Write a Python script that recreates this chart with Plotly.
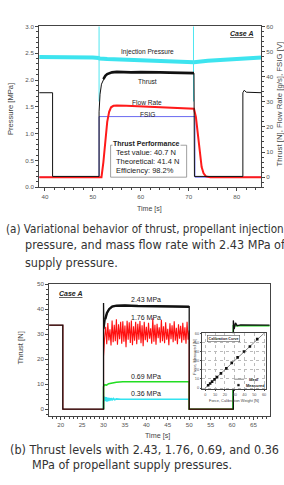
import plotly.graph_objects as go

# ---------------- data: (a) top chart ----------------
inj_t = [38.8, 41.0, 44.0, 47.0, 50.0, 51.2, 51.4, 53.0, 56.0, 60.0, 64.0, 68.0, 70.9, 71.1, 74.0, 77.0, 80.0, 83.0, 85.2]
inj_p = [2.43, 2.43, 2.43, 2.42, 2.42, 2.41, 2.40, 2.39, 2.38, 2.36, 2.35, 2.34, 2.33, 2.33, 2.36, 2.38, 2.40, 2.42, 2.42]
inj_spike_t = [51.3, 71.0]
inj_spike_lo = [1.6, 1.6]
inj_spike_hi = [3.0, 3.0]

thrust_t = [38.8, 41.6, 41.6, 51.3, 51.3, 51.5, 51.8, 52.2, 52.6, 53.0, 53.5, 54.0, 55.0, 56.0, 58.0, 60.0, 62.0, 64.0, 66.0, 68.0, 70.0, 71.1, 71.2, 81.3, 81.3, 81.6, 82.0, 85.2]
thrust_v = [33.6, 33.6, 0.3, 0.3, 26.0, 33.0, 37.0, 39.0, 40.3, 41.0, 41.4, 41.7, 41.9, 41.8, 41.7, 41.8, 41.6, 41.7, 41.6, 41.5, 41.4, 41.4, 0.3, 0.3, 33.6, 34.6, 33.8, 33.6]

flow_t = [38.8, 51.8, 52.2, 52.6, 53.0, 53.4, 53.8, 54.3, 55.0, 57.0, 60.0, 65.0, 70.0, 71.1, 71.5, 71.9, 72.3, 72.7, 73.1, 73.6, 74.5, 85.2]
flow_v = [0.0, 0.0, 6.0, 15.0, 22.0, 26.0, 27.8, 28.4, 28.5, 28.4, 28.1, 27.8, 27.4, 27.2, 24.0, 17.0, 9.0, 4.0, 1.5, 0.3, 0.0, 0.0]

fsig_t = [38.8, 51.3, 51.3, 71.3, 71.3, 85.2]
fsig_v = [0.0, 0.0, 24.1, 24.1, 0.0, 0.0]

perf_lines = ["Test value: 40.7 N", "Theoretical: 41.4 N", "Efficiency: 98.2%"]

# ---------------- data: (b) bottom chart ----------------
b243_t = [17.3, 20.5, 20.5, 30.0, 30.0, 30.1, 30.4, 30.8, 31.3, 32.0, 33.0, 35.0, 38.0, 42.0, 46.0, 50.0, 50.0, 60.3, 60.3, 60.5, 60.8, 61.2, 62.0, 68.8]
b243_v = [33.6, 33.6, 0.0, 0.0, 42.5, 32.0, 36.0, 38.5, 40.0, 41.0, 41.4, 41.5, 41.3, 41.2, 41.1, 41.0, 0.0, 0.0, 35.5, 32.0, 34.5, 33.4, 33.7, 33.6]

b176_pre_t = [17.3, 20.5, 20.5, 30.0, 30.0, 30.1]
b176_pre_v = [33.6, 33.6, 0.0, 0.0, 21.0, 27.0]
b176_noise_t = [30.25, 30.5, 30.75, 31.0, 31.25, 31.5, 31.75, 32.0,
                32.25, 32.5, 32.75, 33.0, 33.25, 33.5, 33.75, 34.0,
                34.25, 34.5, 34.75, 35.0, 35.25, 35.5, 35.75, 36.0,
                36.25, 36.5, 36.75, 37.0, 37.25, 37.5, 37.75, 38.0,
                38.25, 38.5, 38.75, 39.0, 39.25, 39.5, 39.75, 40.0,
                40.25, 40.5, 40.75, 41.0, 41.25, 41.5, 41.75, 42.0,
                42.25, 42.5, 42.75, 43.0, 43.25, 43.5, 43.75, 44.0,
                44.25, 44.5, 44.75, 45.0, 45.25, 45.5, 45.75, 46.0,
                46.25, 46.5, 46.75, 47.0, 47.25, 47.5, 47.75, 48.0,
                48.25, 48.5, 48.75, 49.0, 49.25, 49.5, 49.75, 50.0]
b176_noise_v = [28.5, 33.0, 26.0, 34.5, 27.5, 32.0, 25.5, 35.5,
                26.8, 33.8, 27.2, 36.0, 25.8, 34.0, 28.0, 35.0,
                26.2, 35.2, 27.0, 33.5, 24.8, 35.4, 27.8, 34.8,
                26.5, 35.5, 25.6, 33.2, 27.4, 35.0, 26.0, 34.2,
                27.8, 35.3, 26.4, 33.6, 25.2, 35.0, 27.6, 33.0,
                26.8, 34.6, 28.2, 32.4, 26.2, 36.4, 27.0, 33.8,
                25.8, 34.2, 28.4, 32.8, 26.6, 35.8, 27.2, 33.2,
                26.4, 34.8, 27.8, 32.2, 25.6, 34.4, 28.0, 33.6,
                26.8, 35.2, 27.4, 32.6, 26.0, 34.0, 28.2, 33.4,
                26.6, 34.6, 27.6, 32.8, 26.2, 35.0, 27.8, 31.5]
b176_post_t = [50.0, 60.2]
b176_post_v = [0.0, 0.0]

b069_t = [30.0, 30.0, 30.3, 30.7, 31.2, 32.0, 33.0, 34.5, 36.0, 40.0, 45.0, 50.0, 50.0, 60.2, 60.3, 68.8]
b069_v = [0.0, 9.0, 9.8, 9.6, 10.2, 10.5, 10.8, 11.0, 11.0, 11.0, 11.0, 11.0, 0.0, 0.0, 33.4, 33.4]

b036_t = [30.0, 30.0, 30.2, 30.4, 30.6, 30.8, 31.0, 31.2, 31.4, 31.6, 31.8, 32.0, 32.3, 32.6, 33.0, 34.0, 40.0, 45.0, 50.0, 50.0]
b036_v = [0.0, 3.0, 5.0, 3.2, 4.8, 3.0, 4.6, 3.3, 4.5, 3.5, 4.4, 3.6, 4.3, 3.8, 4.1, 4.0, 4.0, 4.0, 4.0, 0.0]

level_labels = ["2.43 MPa", "1.76 MPa", "0.69 MPa", "0.36 MPa"]

cal_weight = [3.0, 5.0, 7.0, 9.5, 12.0, 16.0, 21.5, 27.0, 33.0, 39.5, 45.5, 53.0]
cal_measured = [3.0, 5.0, 7.0, 9.5, 12.0, 16.0, 21.5, 27.5, 33.5, 40.0, 45.5, 53.5]
ideal_x = [0, 60]
ideal_y = [0, 60]

caption_a = ["(a) Variational behavior of thrust, propellant injection",
             "pressure, and mass flow rate with 2.43 MPa of",
             "supply pressure."]
caption_b = ["(b) Thrust levels with 2.43, 1.76, 0.69, and 0.36",
             "MPa of propellant supply pressures."]

# ---------------- layout helpers ----------------
W, H = 284, 485
def fx(p):
    return p / W
def fy(p):
    return 1 - p / H

FONT = "Liberation Sans, Arial, sans-serif"
CAPFONT = "DejaVu Sans Condensed, Liberation Sans, sans-serif"
TICK = dict(family=FONT, size=6.2, color="#555")
AX = "#444"

fig = go.Figure()

# ---- top chart traces ----
fig.add_trace(go.Scatter(x=inj_t, y=inj_p, mode="lines", line=dict(color="#3de4ef", width=4),
                         xaxis="x", yaxis="y", hoverinfo="skip"))
sx, sy = [], []
for t, lo, hi in zip(inj_spike_t, inj_spike_lo, inj_spike_hi):
    sx += [t, t, None]
    sy += [lo, hi, None]
fig.add_trace(go.Scatter(x=sx, y=sy, mode="lines", line=dict(color="#4ee6f0", width=1),
                         xaxis="x", yaxis="y", hoverinfo="skip"))
fig.add_trace(go.Scatter(x=fsig_t, y=fsig_v, mode="lines", line=dict(color="#6b6bf0", width=1),
                         xaxis="x", yaxis="y2", hoverinfo="skip"))
fig.add_trace(go.Scatter(x=flow_t, y=flow_v, mode="lines", line=dict(color="#ff1a1a", width=2),
                         xaxis="x", yaxis="y2", hoverinfo="skip"))
fig.add_trace(go.Scatter(x=thrust_t, y=thrust_v, mode="lines", line=dict(color="#111", width=1),
                         xaxis="x", yaxis="y2", hoverinfo="skip"))
pt = [t for t, v in zip(thrust_t, thrust_v) if 52.0 <= t <= 71.15]
pv = [v for t, v in zip(thrust_t, thrust_v) if 52.0 <= t <= 71.15]
fig.add_trace(go.Scatter(x=pt, y=pv, mode="lines", line=dict(color="#111", width=2.6),
                         xaxis="x", yaxis="y2", hoverinfo="skip"))

# ---- bottom chart traces ----
fig.add_trace(go.Scatter(x=b036_t, y=b036_v, mode="lines", line=dict(color="#33e3f0", width=1.6),
                         xaxis="x2", yaxis="y3", hoverinfo="skip"))
fig.add_trace(go.Scatter(x=b069_t, y=b069_v, mode="lines", line=dict(color="#22dd22", width=1.6),
                         xaxis="x2", yaxis="y3", hoverinfo="skip"))
fig.add_trace(go.Scatter(x=b176_pre_t + b176_noise_t + b176_post_t,
                         y=b176_pre_v + b176_noise_v + b176_post_v, mode="lines",
                         line=dict(color="#ff1010", width=1.1),
                         xaxis="x2", yaxis="y3", hoverinfo="skip"))
fig.add_trace(go.Scatter(x=b243_t, y=b243_v, mode="lines", line=dict(color="#111", width=1.3),
                         xaxis="x2", yaxis="y3", hoverinfo="skip"))
qt = [t for t, v in zip(b243_t, b243_v) if 30.3 <= t <= 50.0 and v > 1]
qv = [v for t, v in zip(b243_t, b243_v) if 30.3 <= t <= 50.0 and v > 1]
fig.add_trace(go.Scatter(x=qt, y=qv, mode="lines", line=dict(color="#111", width=2.4),
                         xaxis="x2", yaxis="y3", hoverinfo="skip"))

# ---- inset ----
fig.add_trace(go.Scatter(x=ideal_x, y=ideal_y, mode="lines", line=dict(color="#666", width=0.8),
                         xaxis="x3", yaxis="y4", hoverinfo="skip"))
fig.add_trace(go.Scatter(x=cal_weight, y=cal_measured, mode="markers",
                         marker=dict(color="#111", size=2.6, symbol="square"),
                         xaxis="x3", yaxis="y4", hoverinfo="skip"))

def axis(**kw):
    d = dict(showline=True, linecolor=AX, linewidth=1, mirror=True, ticks="outside",
             ticklen=3, tickcolor=AX, tickwidth=0.8, showgrid=False, zeroline=False,
             tickfont=TICK, fixedrange=True)
    d.update(kw)
    return d

INSET_TICK = dict(family=FONT, size=3.9, color="#555")
layout = dict(
    width=W, height=H, margin=dict(l=0, r=0, t=0, b=0),
    paper_bgcolor="white", plot_bgcolor="white", showlegend=False,
    font=dict(family=FONT, color="#222"),
    xaxis=axis(domain=[fx(39.3), fx(262)], range=[38.8, 85.1], tick0=0, dtick=10, anchor="y",
               minor=dict(ticks="outside", ticklen=2, dtick=2, tickcolor=AX)),
    yaxis=axis(domain=[fy(186), fy(22.7)], range=[0, 3], dtick=0.5, tickformat=".1f", anchor="x",
               mirror=False, minor=dict(ticks="outside", ticklen=2, dtick=0.1, tickcolor=AX)),
    yaxis2=axis(overlaying="y", side="right", range=[-4.04, 60], dtick=10, anchor="x",
                mirror=False, minor=dict(ticks="outside", ticklen=2, dtick=2, tickcolor=AX)),
    xaxis2=axis(domain=[fx(49.3), fx(270.7)], range=[17.3, 68.8], tick0=0, dtick=5, anchor="y3",
                minor=dict(ticks="outside", ticklen=2, dtick=1, tickcolor=AX)),
    yaxis3=axis(domain=[fy(417.7), fy(284.3)], range=[-2.6, 50], dtick=10, anchor="x2",
                minor=dict(ticks="outside", ticklen=2, dtick=2, tickcolor=AX)),
    xaxis3=axis(domain=[fx(203), fx(267)], range=[-3, 62], dtick=10, anchor="y4", ticklen=1.5,
                tickfont=INSET_TICK, showgrid=True,
                gridcolor="#bbb", gridwidth=0.5, griddash="dot", linewidth=0.8),
    yaxis4=axis(domain=[fy(390.7), fy(334)], range=[-1.1, 60], dtick=10, anchor="x3", ticklen=1.5,
                tickfont=INSET_TICK, showgrid=True,
                gridcolor="#bbb", gridwidth=0.5, griddash="dot", linewidth=0.8),
)

ann = []
def txt(x, y, s, size, color="#222", xanchor="center", angle=0, family=FONT, **kw):
    ann.append(dict(x=fx(x), y=fy(y), xref="paper", yref="paper", text=s, showarrow=False,
                    xanchor=xanchor, yanchor="middle", textangle=angle,
                    font=dict(family=family, size=size, color=color), **kw))

# top chart texts
txt(242, 30, "<b><i><u>Case A</u></i></b>", 7)
txt(148, 48.7, "Injection Pressure", 6.6)
txt(148, 78.7, "Thrust", 6.6)
txt(148, 99.7, "Flow Rate", 6.6)
txt(148, 111.7, "FSIG", 6.6)
txt(10, 106.7, "Pressure [MPa]", 7.6, color="#444", angle=-90)
txt(281, 102, "Thrust [N], Flow Rate [g/s], FSIG [V]", 7.8, color="#444", angle=-90)
txt(150, 208.3, "Time [s]", 7, color="#444")
for i, line in enumerate(perf_lines):
    txt(114, 150.5 + 9 * i, line, 7.5, xanchor="left")
txt(147.5, 142, "<b>Thrust Performance</b>", 7, bgcolor="white", borderpad=0)

# bottom chart texts
txt(71, 293.3, "<b><i><u>Case A</u></i></b>", 7)
for lab, y in zip(level_labels, [300, 318.3, 378.3, 395.7]):
    txt(147, y, lab, 7)
txt(20.7, 349, "Thrust [N]", 7.6, color="#444", angle=-90)
txt(158, 438.3, "Time [s]", 7.2, color="#444")

# inset texts
txt(224, 339.7, "<b>Calibration Curve</b>", 3.6, bordercolor="#555", borderwidth=0.6, borderpad=1.0,
    bgcolor="white")
txt(248.3, 380.7, "<b>Ideal</b>", 4.0, xanchor="left")
txt(245.0, 386.7, "<b>Measured</b>", 4.0, xanchor="left")
txt(195.5, 358, "Force, Measured [N]", 3.9, color="#444", angle=-90)
txt(235, 402.5, "Force, Calibration Weight [N]", 3.9, color="#444")

# captions
cap_a_x = [4, 23.3, 23.3]
cap_a_size = [11.6, 12.5, 12.5]
for line, x, s, y in zip(caption_a, cap_a_x, cap_a_size, [228.5, 244.5, 262.5]):
    txt(x, y, line, s, color="#333", xanchor="left", family=CAPFONT)
for line, x, y in zip(caption_b, [8.3, 30], [452.2, 467.6]):
    txt(x, y, line, 12.5, color="#333", xanchor="left", family=CAPFONT)

layout["annotations"] = ann
layout["shapes"] = [
    dict(type="rect", xref="paper", yref="paper", x0=fx(111), x1=fx(187.3), y0=fy(175.7), y1=fy(143.3),
         line=dict(color="#888", width=0.8), layer="above"),
    dict(type="rect", xref="paper", yref="paper", x0=fx(232), x1=fx(266), y0=fy(389.7), y1=fy(377.8),
         line=dict(color="#666", width=0.5), fillcolor="white", layer="below"),
    dict(type="line", xref="paper", yref="paper", x0=fx(235), x1=fx(245), y0=fy(380.7), y1=fy(380.7),
         line=dict(color="#666", width=0.8)),
    dict(type="rect", xref="paper", yref="paper", x0=fx(238.3), x1=fx(240.3), y0=fy(387.7), y1=fy(385.7),
         line=dict(color="#111", width=0.3), fillcolor="#111"),
]

fig.update_layout(**layout)
fig.write_html("out.html", config={"displayModeBar": False})
